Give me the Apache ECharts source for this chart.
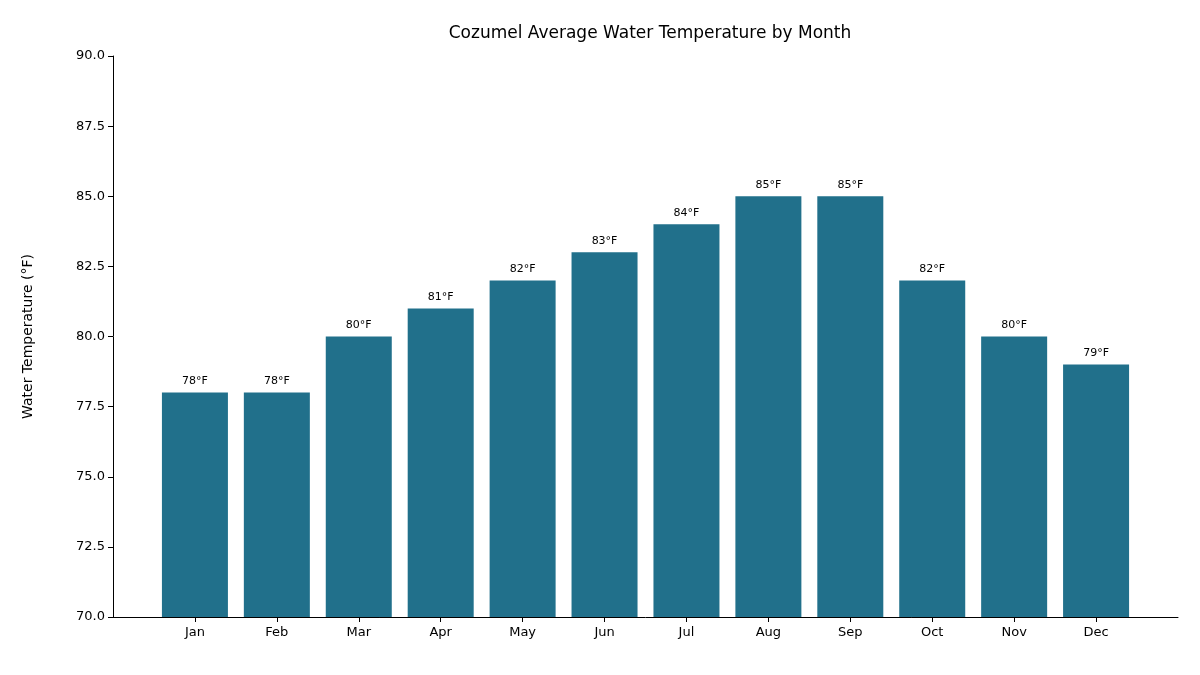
<!DOCTYPE html>
<html>
<head>
<meta charset="utf-8">
<script src="https://cdn.jsdelivr.net/npm/echarts@6/dist/echarts.min.js"></script>
<style>body{margin:0}#chart{width:1200px;height:675px}</style>
</head>
<body>
<div id="chart"></div>
<script>
var months = ['Jan', 'Feb', 'Mar', 'Apr', 'May', 'Jun', 'Jul', 'Aug', 'Sep', 'Oct', 'Nov', 'Dec'];
var temps = [78, 78, 80, 81, 82, 83, 84, 85, 85, 82, 80, 79];

// pad with empty slots so the axis has matplotlib-like margins
var cats = [''].concat(months, ['']);
var vals = [null].concat(temps, [null]);

var myChart = echarts.init(document.getElementById('chart'));
var option = {
    animation: false,
    textStyle: { fontFamily: 'DejaVu Sans' },
    title: {
        text: 'Cozumel Average Water Temperature by Month',
        left: 645, top: 20, textAlign: 'center',
        textStyle: { fontSize: 17, fontWeight: 'normal', color: '#000' }
    },
    grid: { left: 113, right: 22, top: 56, bottom: 58 },
    xAxis: {
        type: 'category',
        data: cats,
        boundaryGap: false,
        axisLine: { lineStyle: { color: '#000' } },
        axisTick: {
            length: 5, lineStyle: { color: '#000' },
            interval: function (i) { return i > 0 && i < cats.length - 1; }
        },
        axisLabel: { color: '#000', fontSize: 13, margin: 9, interval: 0 }
    },
    yAxis: {
        type: 'value',
        min: 70, max: 90, interval: 2.5,
        name: 'Water Temperature (°F)',
        nameLocation: 'middle', nameGap: 78,
        nameTextStyle: { fontSize: 14, color: '#000' },
        axisLine: { show: true, lineStyle: { color: '#000' } },
        axisTick: { show: true, length: 5, lineStyle: { color: '#000' } },
        axisLabel: { color: '#000', fontSize: 13, formatter: function (v) { return v.toFixed(1); } },
        splitLine: { show: false }
    },
    series: [{
        type: 'bar',
        data: vals,
        barWidth: 66,
        itemStyle: { color: '#21708b' },
        label: {
            show: true, position: 'top', distance: 6,
            fontSize: 11, color: '#000',
            formatter: function (p) { return p.value + '°F'; }
        }
    }]
};
myChart.setOption(option, true);
</script>
</body>
</html>
